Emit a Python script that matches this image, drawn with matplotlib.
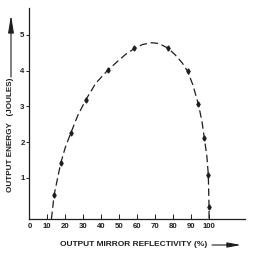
import matplotlib
matplotlib.use("Agg")
import matplotlib.pyplot as plt
from matplotlib.patches import FancyArrowPatch

# Measured points (output mirror reflectivity %, output energy J)
refl_pts = [13.8, 17.5, 23.1, 31.5, 43.8, 58.5, 77.1, 88.1, 94.0, 97.4, 99.6, 100.0]
energy_pts = [0.53, 1.42, 2.26, 3.19, 4.02, 4.62, 4.63, 3.98, 3.07, 2.11, 1.08, 0.18]

# Dashed curve
curve_x = [12.3, 13.8, 17.5, 20.0, 23.1, 27.0, 31.5, 37.0, 43.8, 50.0, 53.5, 58.5,
           63.0, 68.0, 72.0, 77.1, 81.0, 85.0, 88.1, 91.0, 94.0, 96.0, 97.4,
           98.8, 99.6, 100.0, 100.0]
curve_y = [-0.15, 0.53, 1.42, 1.85, 2.26, 2.75, 3.19, 3.65, 4.02, 4.30, 4.45, 4.62,
           4.73, 4.78, 4.76, 4.63, 4.45, 4.22, 3.98, 3.60, 3.07, 2.60, 2.11,
           1.60, 1.08, 0.18, -0.15]

x_ticks = [10, 20, 30, 40, 50, 60, 70, 80, 90, 100]
x_ticklabels = ["10", "20", "30", "40", "50", "60", "70", "80", "90", "100"]
y_ticks = [1, 2, 3, 4, 5]
y_ticklabels = ["1", "2", "3", "4", "5"]

ink = "#1e1e1e"
plt.rcParams['font.family'] = ['Liberation Sans', 'DejaVu Sans']
plt.rcParams['font.weight'] = 'bold'

fig = plt.figure(figsize=(2.54, 2.62), dpi=100)
ax = fig.add_axes([0.1155, 0.164, 0.849, 0.804])

ax.plot(curve_x, curve_y, color=ink, lw=0.9, dashes=(6, 3))
ax.plot(refl_pts, energy_pts, linestyle='none', marker='d', ms=2.6, color=ink)

ax.set_xlim(0, 120)
ax.set_ylim(-0.15, 5.74)
for s in ['top', 'right']:
    ax.spines[s].set_visible(False)
for s in ['left', 'bottom']:
    ax.spines[s].set_color(ink)
    ax.spines[s].set_linewidth(0.9)

ax.set_xticks(x_ticks)
ax.set_xticklabels(x_ticklabels)
ax.set_yticks(y_ticks)
ax.set_yticklabels(y_ticklabels)
ax.tick_params(axis='x', direction='in', length=3.6, width=0.7, colors=ink,
               labelsize=5.6, pad=3.2)
ax.tick_params(axis='y', direction='out', length=2.2, width=0.7, colors=ink,
               labelsize=5.6, pad=1.2)
fig.text(29.7/254, 1 - 227/262, "0", fontsize=5.6, color=ink, ha='center', va='center')

# y label with arrow
fig.text(11/254, 1 - 192/262, "OUTPUT ENERGY   (JOULES)", rotation=90,
         fontsize=5.9, color=ink, ha='center', va='bottom')
fig.add_artist(FancyArrowPatch(
    (11/254, 1 - 77/262), (11/254, 1 - 15/262), transform=fig.transFigure,
    arrowstyle='-|>,head_length=10.5,head_width=1.7', color=ink, lw=0.8,
    mutation_scale=1, shrinkA=0, shrinkB=0))

# x label with arrow
fig.text(60/254, 1 - 244/262, "OUTPUT MIRROR REFLECTIVITY (%)",
         fontsize=6.0, color=ink, ha='left', va='center')
fig.add_artist(FancyArrowPatch(
    (212/254, 1 - 245/262), (241/254, 1 - 245/262), transform=fig.transFigure,
    arrowstyle='-|>,head_length=8,head_width=1.5', color=ink, lw=0.8,
    mutation_scale=1, shrinkA=0, shrinkB=0))

fig.savefig("out.png", dpi=100)
